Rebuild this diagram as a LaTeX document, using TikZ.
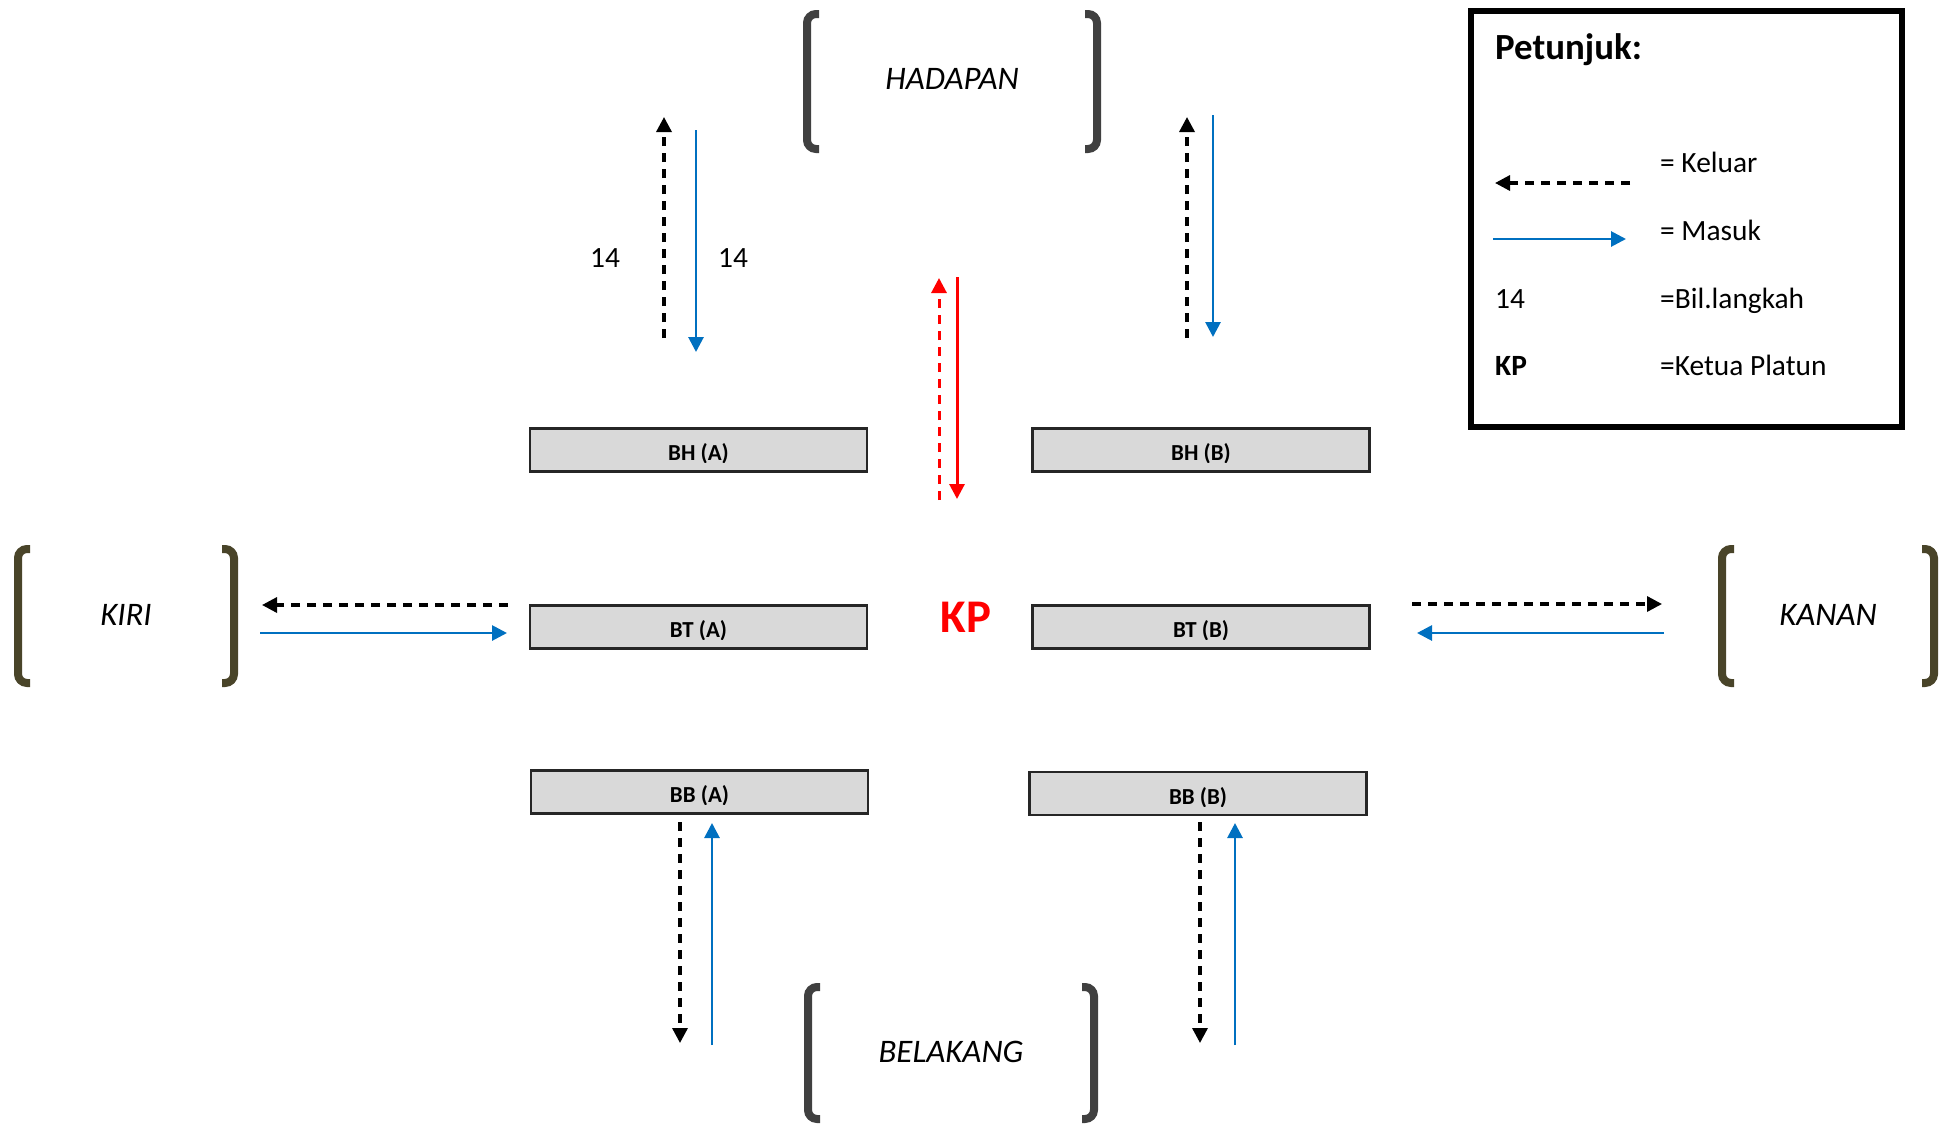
\documentclass[tikz,border=0pt]{standalone}
\usepackage{fontspec}
\setmainfont{Carlito}
\usetikzlibrary{arrows.meta}
\definecolor{bblue}{HTML}{0070C0}
\definecolor{rred}{HTML}{FF0000}
\definecolor{brgray}{HTML}{404040}
\definecolor{brolive}{HTML}{494429}
\definecolor{boxfill}{HTML}{D9D9D9}
\definecolor{boxline}{HTML}{262626}
\tikzset{
  tip/.style={-{Triangle[length=15bp,width=15bp]}},
  outarrow/.style={tip, black, line width=3.3bp, dash pattern=on 9bp off 7bp},
  inarrow/.style={tip, bblue, line width=2.8bp},
  kpout/.style={tip, rred, line width=3bp, dash pattern=on 9bp off 7bp},
  kpin/.style={tip, rred, line width=3bp},
  rowbox/.style={draw=boxline, fill=boxfill, line width=2.2bp, minimum width=337bp, minimum height=43bp, inner sep=0pt},
  boxlabel/.style={anchor=base, font=\fontsize{23}{26}\selectfont\bfseries, inner sep=0pt},
  brk/.style={line width=8bp, rounded corners=9bp},
  sidelabel/.style={anchor=base, font=\fontsize{33}{38}\selectfont\itshape, inner sep=0pt},
  numlabel/.style={anchor=base, font=\fontsize{29.5}{34}\selectfont, inner sep=0pt},
  legtext/.style={anchor=base west, font=\fontsize{29.5}{34}\selectfont, inner sep=0pt},
}
\newcommand{\boxwithlabel}[4]{% name, x, y, text
  \node[rowbox] (#1) at (#2,#3) {};
  \begin{scope}
    \clip ([xshift=1bp,yshift=-1bp]#1.north west) rectangle ([xshift=-1bp,yshift=10bp]#1.south east);
    \node[boxlabel] (l#1) at ([yshift=12bp]#1.south) {#4};
  \end{scope}
}
\begin{document}
\begin{tikzpicture}[x=1bp,y=-1bp]
\useasboundingbox (0,0) rectangle (1944,1125);
\fill[white] (0,0) rectangle (1944,1125);

% ---------- brackets ----------
\draw[brk, brgray] (819,14) -- (807,14) -- (807,149) -- (819,149);
\draw[brk, brgray] (1085,14) -- (1097,14) -- (1097,149) -- (1085,149);
\node[sidelabel] (hadapan) at (952,89) {HADAPAN};

\draw[brk, brgray] (820,987) -- (808,987) -- (808,1119) -- (820,1119);
\draw[brk, brgray] (1082,987) -- (1094,987) -- (1094,1119) -- (1082,1119);
\node[sidelabel] (belakang) at (951,1062) {BELAKANG};

\draw[brk, brolive] (30,549) -- (18,549) -- (18,683) -- (30,683);
\draw[brk, brolive] (222,549) -- (234,549) -- (234,683) -- (222,683);
\node[sidelabel] (kiri) at (126,625) {KIRI};

\draw[brk, brolive] (1734,549) -- (1722,549) -- (1722,683) -- (1734,683);
\draw[brk, brolive] (1922,549) -- (1934,549) -- (1934,683) -- (1922,683);
\node[sidelabel] (kanan) at (1828,625) {KANAN};

% ---------- boxes ----------
\boxwithlabel{bha}{698.5}{450}{BH (A)}
\boxwithlabel{bhb}{1201}{450}{BH (B)}
\boxwithlabel{bta}{698.5}{627}{BT (A)}
\boxwithlabel{btb}{1201}{627}{BT (B)}
\boxwithlabel{bba}{699.5}{792}{BB (A)}
\boxwithlabel{bbb}{1198}{793.5}{BB (B)}

% ---------- KP ----------
\node[anchor=base, text=rred, font=\fontsize{47}{54}\selectfont\bfseries, inner sep=0pt] (kp) at (966,632) {KP};

% ---------- arrow end points ----------
\coordinate (ha1) at (664,338); \coordinate (ha2) at (664,117);
\coordinate (hb1) at (696,130); \coordinate (hb2) at (696,352);
\coordinate (hc1) at (1187,338); \coordinate (hc2) at (1187,117);
\coordinate (hd1) at (1213,115); \coordinate (hd2) at (1213,337);
\coordinate (ka1) at (939,500); \coordinate (ka2) at (939,278);
\coordinate (kb1) at (957,277); \coordinate (kb2) at (957,499);
\coordinate (la1) at (508,605); \coordinate (la2) at (262,605);
\coordinate (lb1) at (260,633); \coordinate (lb2) at (507,633);
\coordinate (ra1) at (1412,604); \coordinate (ra2) at (1662,604);
\coordinate (rb1) at (1664,633); \coordinate (rb2) at (1417,633);
\coordinate (ba1) at (680,822); \coordinate (ba2) at (680,1043);
\coordinate (bb1) at (712,1045); \coordinate (bb2) at (712,823);
\coordinate (bc1) at (1200,822); \coordinate (bc2) at (1200,1043);
\coordinate (bd1) at (1235,1045); \coordinate (bd2) at (1235,823);

\draw[outarrow] (ha1) -- (ha2);
\draw[inarrow] (hb1) -- (hb2);
\draw[outarrow] (hc1) -- (hc2);
\draw[inarrow] (hd1) -- (hd2);
\draw[kpout] (ka1) -- (ka2);
\draw[kpin] (kb1) -- (kb2);
\draw[outarrow] (la1) -- (la2);
\draw[inarrow] (lb1) -- (lb2);
\draw[outarrow] (ra1) -- (ra2);
\draw[inarrow] (rb1) -- (rb2);
\draw[outarrow] (ba1) -- (ba2);
\draw[inarrow] (bb1) -- (bb2);
\draw[outarrow] (bc1) -- (bc2);
\draw[inarrow] (bd1) -- (bd2);

\node[numlabel] (n14a) at (605,267) {14};
\node[numlabel] (n14b) at (733,267) {14};

% ---------- legend ----------
\node[draw=black, line width=6bp, minimum width=431bp, minimum height=416bp, inner sep=0pt] (legend) at (1686.5,219) {};
\node[anchor=base west, font=\fontsize{37}{42}\selectfont\bfseries, inner sep=0pt] (legtitle) at (1495,59) {Petunjuk:};
\coordinate (lg1) at (1630,183); \coordinate (lg2) at (1495,183);
\coordinate (lg3) at (1493,239); \coordinate (lg4) at (1626,239);
\draw[outarrow] (lg1) -- (lg2);
\draw[inarrow] (lg3) -- (lg4);
\node[legtext] (lk) at (1660,172) {= Keluar};
\node[legtext] (lm) at (1660,240) {= Masuk};
\node[legtext] (l14) at (1495,308) {14};
\node[legtext] (lbil) at (1660,308) {=Bil.langkah};
\node[legtext, font=\fontsize{29.5}{34}\selectfont\bfseries] (lkp) at (1495,375) {KP};
\node[legtext] (lket) at (1660,375) {=Ketua Platun};
\end{tikzpicture}
\end{document}
